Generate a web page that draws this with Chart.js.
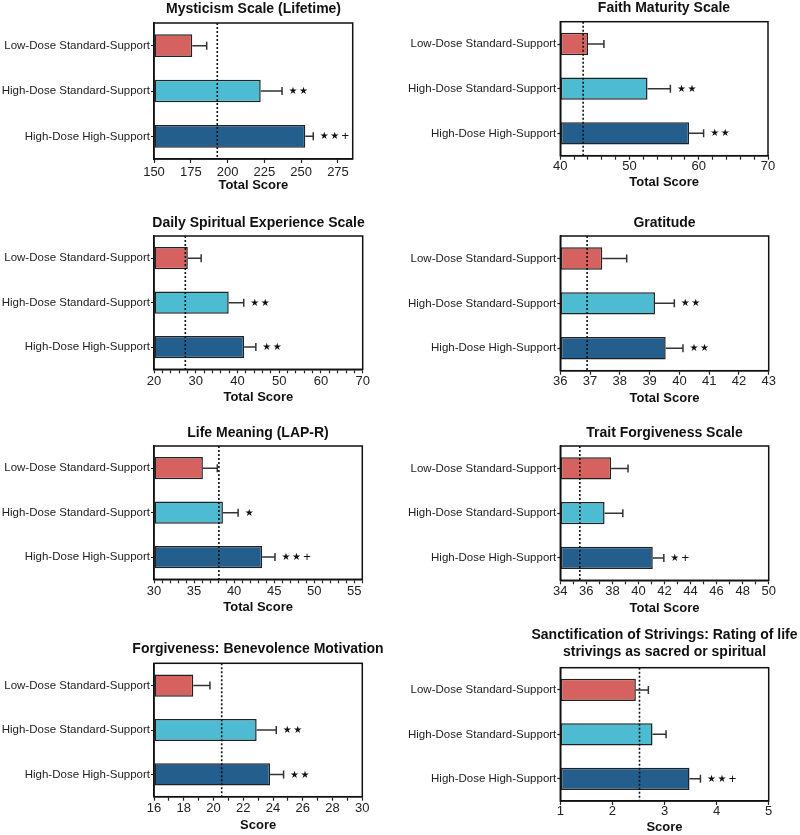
<!DOCTYPE html>
<html>
<head>
<meta charset="utf-8">
<script src="https://cdn.jsdelivr.net/npm/chart.js@4.4.1/dist/chart.umd.min.js"></script>
<style>
    body { margin: 0; background: #fff; overflow: hidden; }
    #figura { position: relative; width: 800px; height: 835px; overflow: hidden; }
    .painel { position: absolute; }
</style>
</head>
<body>
<div id="figura"></div>
<script>
const grupos = ['Low-Dose Standard-Support', 'High-Dose Standard-Support', 'High-Dose High-Support'];
const cores = ['#d5625f', '#4dbbd1', '#235e8c'];

// medias, erro padrao (so o lado de cima), linha pontilhada de referencia, marcas de significancia
const mediasMisticismo = [176, 222.5, 252.8];
const errosMisticismo = [9.8, 14.5, 5.4];
const baseMisticismo = 193;
const marcasMisticismo = ['', '★★', '★★+'];

const mediasFe = [44.0, 52.6, 58.6];
const errosFe = [2.3, 3.3, 2.1];
const baseFe = 43.3;
const marcasFe = ['', '★★', '★★'];

const mediasDiaria = [28.1, 37.9, 41.6];
const errosDiaria = [3.2, 3.6, 2.8];
const baseDiaria = 27.5;
const marcasDiaria = ['', '★★', '★★'];

const mediasGratidao = [37.41, 39.18, 39.54];
const errosGratidao = [0.82, 0.65, 0.58];
const baseGratidao = 36.9;
const marcasGratidao = ['', '★★', '★★'];

const mediasSentido = [36.1, 38.6, 43.5];
const errosSentido = [1.8, 1.9, 1.6];
const baseSentido = 38.1;
const marcasSentido = ['', '★', '★★+'];

const mediasPerdao = [37.9, 37.4, 41.1];
const errosPerdao = [1.3, 1.4, 0.85];
const basePerdao = 35.5;
const marcasPerdao = ['', '', '★+'];

const mediasBenevolencia = [18.64, 22.9, 23.8];
const errosBenevolencia = [1.12, 1.32, 0.91];
const baseBenevolencia = 20.55;
const marcasBenevolencia = ['', '★★', '★★'];

const mediasSantificacao = [2.45, 2.77, 3.48];
const errosSantificacao = [0.24, 0.26, 0.21];
const baseSantificacao = 2.52;
const marcasSantificacao = ['', '', '★★+'];

// caixa = [x, y, altura] do canvas; area = [esq, dir, topo, baixo] da area de plotagem
const paineis = [
    { titulo: ['Mysticism Scale (Lifetime)'], eixo: 'Total Score', medias: mediasMisticismo, erros: errosMisticismo, base: baseMisticismo, marcas: marcasMisticismo,
      min: 150, max: 285, maior: 25, menor: 25, caixa: [0, 0, 200], area: [154, 352.7, 23, 159], tituloY: 9.5, ticksY: 172, eixoY: 185.5 },
    { titulo: ['Faith Maturity Scale'], eixo: 'Total Score', medias: mediasFe, erros: errosFe, base: baseFe, marcas: marcasFe,
      min: 40, max: 70, maior: 10, menor: 2, caixa: [400, 0, 200], area: [560.3, 768, 21.7, 155.7], tituloY: 8.5, ticksY: 166.5, eixoY: 182.7 },
    { titulo: ['Daily Spiritual Experience Scale'], eixo: 'Total Score', medias: mediasDiaria, erros: errosDiaria, base: baseDiaria, marcas: marcasDiaria,
      min: 20, max: 70, maior: 10, menor: 2, caixa: [0, 200, 210], area: [154, 362.7, 236, 369.3], tituloY: 222.7, ticksY: 381.7, eixoY: 397.3 },
    { titulo: ['Gratitude'], eixo: 'Total Score', medias: mediasGratidao, erros: errosGratidao, base: baseGratidao, marcas: marcasGratidao,
      min: 36, max: 43, maior: 1, menor: 1, caixa: [400, 200, 210], area: [560.3, 768.7, 236, 370.7], tituloY: 222.7, ticksY: 381.7, eixoY: 398 },
    { titulo: ['Life Meaning (LAP-R)'], eixo: 'Total Score', medias: mediasSentido, erros: errosSentido, base: baseSentido, marcas: marcasSentido,
      min: 30, max: 56, maior: 5, menor: 1, caixa: [0, 410, 210], area: [154, 362.3, 446, 579.3], tituloY: 432.7, ticksY: 591.7, eixoY: 607.3 },
    { titulo: ['Trait Forgiveness Scale'], eixo: 'Total Score', medias: mediasPerdao, erros: errosPerdao, base: basePerdao, marcas: marcasPerdao,
      min: 34, max: 50, maior: 2, menor: 1, caixa: [400, 410, 210], area: [560.3, 768.7, 446, 580.3], tituloY: 432.7, ticksY: 591.7, eixoY: 608 },
    { titulo: ['Forgiveness: Benevolence Motivation'], eixo: 'Score', medias: mediasBenevolencia, erros: errosBenevolencia, base: baseBenevolencia, marcas: marcasBenevolencia,
      min: 16, max: 30, maior: 2, menor: 1, caixa: [0, 620, 215], area: [154, 362.3, 663.3, 796.7], tituloY: 649.3, ticksY: 808.3, eixoY: 825 },
    { titulo: ['Sanctification of Strivings: Rating of life', 'strivings as sacred or spiritual'], eixo: 'Score', medias: mediasSantificacao, erros: errosSantificacao, base: baseSantificacao, marcas: marcasSantificacao,
      min: 1, max: 5, maior: 1, menor: 1, caixa: [400, 620, 215], area: [560.3, 768.7, 667.7, 801], tituloY: 635, ticksY: 811.7, eixoY: 827.5 }
];

const fonte = '"Liberation Sans", Arial, sans-serif';

function criarExtras(p) {
    return {
        id: 'extras',
        afterDatasetsDraw(chart) {
            const ctx = chart.ctx;
            const a = chart.chartArea;
            const x = chart.scales.x;
            const meta = chart.getDatasetMeta(0);
            ctx.save();

            // linha pontilhada
            const xb = x.getPixelForValue(p.base);
            ctx.strokeStyle = '#111';
            ctx.lineWidth = 1.6;
            ctx.setLineDash([2, 2]);
            ctx.beginPath();
            ctx.moveTo(xb, a.top);
            ctx.lineTo(xb, a.bottom);
            ctx.stroke();
            ctx.setLineDash([]);

            meta.data.forEach((barra, i) => {
                const x0 = x.getPixelForValue(p.medias[i]);
                const x1 = x.getPixelForValue(p.medias[i] + p.erros[i]);
                ctx.strokeStyle = '#333';
                ctx.lineWidth = 1.5;
                ctx.beginPath();
                ctx.moveTo(x0, barra.y);
                ctx.lineTo(x1, barra.y);
                ctx.moveTo(x1, barra.y - 4);
                ctx.lineTo(x1, barra.y + 4);
                ctx.stroke();

                [...p.marcas[i]].forEach((s, k) => {
                    ctx.font = s === '★' ? '10px "DejaVu Sans"' : '13px ' + fonte;
                    ctx.fillStyle = '#111';
                    ctx.textAlign = 'center';
                    ctx.textBaseline = 'middle';
                    ctx.fillText(s, x1 + 11 + k * 10.5, barra.y + 0.5);
                });
            });

            // moldura
            ctx.strokeStyle = '#111';
            ctx.lineWidth = 1.5;
            ctx.strokeRect(a.left, a.top, a.right - a.left, a.bottom - a.top);
            ctx.restore();
        }
    };
}

function montarPainel(p) {
    const [bx, by, bh] = p.caixa;
    const [aL, aR, aT, aB] = p.area;
    // canvas simetrico em torno do centro da area, para o titulo ficar centrado nela
    const bw = Math.round(2 * ((aL + aR) / 2 - bx));
    const sobra = (bx + bw) - aR;

    const div = document.createElement('div');
    div.className = 'painel';
    div.style.left = bx + 'px';
    div.style.top = by + 'px';
    div.style.width = bw + 'px';
    div.style.height = bh + 'px';
    const canvas = document.createElement('canvas');
    canvas.width = bw;
    canvas.height = bh;
    div.appendChild(canvas);
    document.getElementById('figura').appendChild(div);

    const lhTitulo = 14 * 1.2;
    const padTopo = p.tituloY - by - lhTitulo / 2;
    const padBaixo = (aT - by) - padTopo - lhTitulo * p.titulo.length;
    const tickLen = 4;
    const lhTick = 13 * 1.2;
    const padTicks = p.ticksY - aB - tickLen - lhTick / 2;
    const padEixo = (by + bh) - p.eixoY - lhTick / 2;
    const eps = 1e-6;

    new Chart(canvas, {
        type: 'bar',
        data: {
            labels: grupos,
            datasets: [{
                data: p.medias,
                base: p.min,
                backgroundColor: cores,
                borderColor: '#222',
                borderWidth: 1.5,
                borderSkipped: false,
                barPercentage: 0.5,
                categoryPercentage: 1
            }]
        },
        options: {
            indexAxis: 'y',
            responsive: false,
            animation: false,
            devicePixelRatio: 1,
            layout: { padding: 0 },
            plugins: {
                legend: { display: false },
                tooltip: { enabled: false },
                title: {
                    display: true,
                    text: p.titulo.length > 1 ? p.titulo : p.titulo[0],
                    fullSize: true,
                    color: '#111',
                    font: { family: fonte, size: 14, weight: 'bold', lineHeight: 1.2 },
                    padding: { top: padTopo, bottom: padBaixo }
                }
            },
            scales: {
                x: {
                    type: 'linear',
                    min: p.min,
                    max: p.max,
                    afterFit: (s) => { s.height = (by + bh) - aB; },
                    afterBuildTicks: (s) => {
                        s.ticks = s.ticks.filter(t => {
                            const q = (t.value - p.min) / p.menor;
                            return Math.abs(q - Math.round(q)) < eps;
                        });
                    },
                    ticks: {
                        stepSize: p.menor,
                        includeBounds: false,
                        maxTicksLimit: 200,
                        autoSkip: false,
                        maxRotation: 0,
                        padding: padTicks,
                        color: '#222',
                        font: { family: fonte, size: 13, lineHeight: 1.2 },
                        callback: (v) => {
                            const q = (v - p.min) / p.maior;
                            return Math.abs(q - Math.round(q)) < eps ? String(v) : '';
                        }
                    },
                    grid: { display: true, drawOnChartArea: false, drawTicks: true, tickLength: tickLen, tickColor: '#222', tickWidth: 1.2 },
                    border: { display: true, color: '#111', width: 1.5 },
                    title: {
                        display: true,
                        text: p.eixo,
                        color: '#111',
                        font: { family: fonte, size: 13, weight: 'bold', lineHeight: 1.2 },
                        padding: { top: 0, bottom: padEixo }
                    }
                },
                y: {
                    afterFit: (s) => { s.width = aL - bx; },
                    ticks: {
                        padding: 1,
                        color: '#222',
                        font: { family: fonte, size: 11.5 }
                    },
                    grid: { display: true, offset: false, drawOnChartArea: false, drawTicks: true, tickLength: 3, tickColor: '#222', tickWidth: 1.2 },
                    border: { display: true, color: '#111', width: 1.5 }
                },
                // eixo vazio a direita: so ocupa o espaco que sobra no canvas
                folga: {
                    type: 'linear',
                    position: 'right',
                    display: true,
                    afterFit: (s) => { s.width = sobra; },
                    ticks: { display: false },
                    grid: { display: false, drawTicks: false },
                    border: { display: false },
                    title: { display: false }
                }
            }
        },
        plugins: [criarExtras(p)]
    });
}

paineis.forEach(montarPainel);
</script>
</body>
</html>
